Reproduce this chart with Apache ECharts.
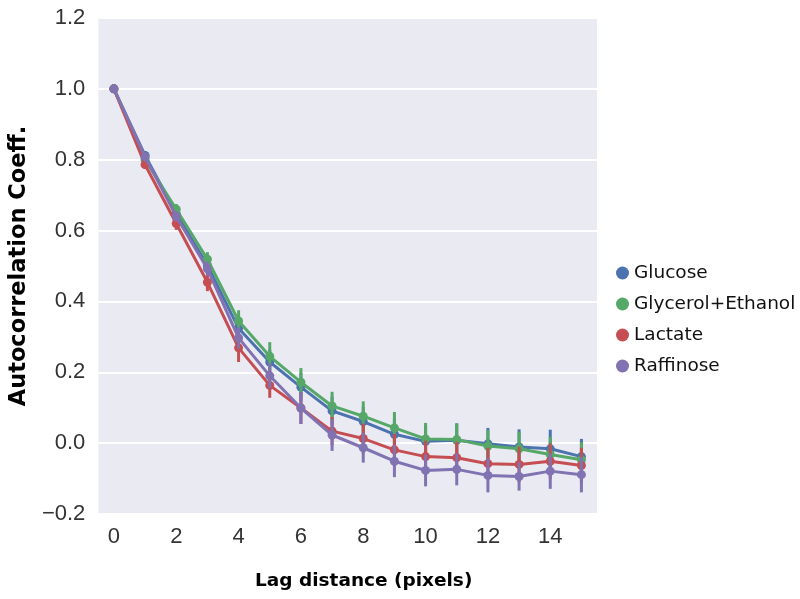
<!DOCTYPE html>
<html><head><meta charset="utf-8">
<script src="https://cdn.jsdelivr.net/npm/echarts@6/dist/echarts.min.js"></script>
<style>html,body{margin:0;padding:0;background:#fff}#c{width:800px;height:599px}</style>
</head><body><div id="c"></div>
<script>
const lags = ['0','1','2','3','4','5','6','7','8','9','10','11','12','13','14','15'];
const seriesNames = ['Glucose','Glycerol+Ethanol','Lactate','Raffinose'];
const colors = ['#4C72B0','#55A868','#C44E52','#8172B2'];
const glucose   = [1.0, 0.812, 0.648, 0.502, 0.324, 0.229, 0.158, 0.091, 0.061, 0.025, 0.005, 0.008, -0.002, -0.011, -0.016, -0.038];
const glycerol  = [1.0, 0.800, 0.660, 0.519, 0.345, 0.245, 0.172, 0.105, 0.076, 0.043, 0.012, 0.010, -0.008, -0.016, -0.032, -0.047];
const lactate   = [1.0, 0.786, 0.620, 0.454, 0.269, 0.163, 0.099, 0.034, 0.013, -0.019, -0.038, -0.041, -0.058, -0.060, -0.051, -0.063];
const raffinose = [1.0, 0.808, 0.640, 0.492, 0.297, 0.190, 0.099, 0.023, -0.013, -0.051, -0.077, -0.074, -0.091, -0.094, -0.079, -0.089];
const errGlucose   = [0, 0.012, 0.015, 0.02, 0.03, 0.035, 0.04, 0.04, 0.042, 0.045, 0.045, 0.048, 0.045, 0.05, 0.054, 0.05];
const errGlycerol  = [0, 0.012, 0.015, 0.02, 0.03, 0.04, 0.04, 0.04, 0.042, 0.045, 0.045, 0.045, 0.045, 0.048, 0.05, 0.05];
const errLactate   = [0, 0.012, 0.018, 0.025, 0.04, 0.035, 0.045, 0.04, 0.042, 0.045, 0.045, 0.045, 0.045, 0.05, 0.05, 0.05];
const errRaffinose = [0, 0.012, 0.015, 0.02, 0.03, 0.035, 0.045, 0.045, 0.042, 0.045, 0.045, 0.045, 0.048, 0.04, 0.05, 0.05];
const yTicks = { min: -0.2, max: 1.2, interval: 0.2 };

const values = [glucose, glycerol, lactate, raffinose];
const errs = [errGlucose, errGlycerol, errLactate, errRaffinose];

const series = [];
values.forEach((vals, i) => {
  series.push({
    type: 'custom',
    name: seriesNames[i],
    z: 2 + i * 2,
    silent: true,
    data: vals.map((v, k) => [k, v - errs[i][k], v + errs[i][k]]),
    renderItem: function (params, api) {
      const lo = api.coord([api.value(0), api.value(1)]);
      const hi = api.coord([api.value(0), api.value(2)]);
      return { type: 'line', shape: { x1: lo[0], y1: lo[1], x2: hi[0], y2: hi[1] },
               style: { stroke: colors[i], lineWidth: 3 } };
    },
    encode: { x: 0, y: [1, 2] }
  });
  series.push({
    type: 'line',
    name: seriesNames[i],
    z: 3 + i * 2,
    data: vals,
    symbol: 'circle',
    symbolSize: 9,
    showSymbol: true,
    lineStyle: { width: 3, color: colors[i] },
    itemStyle: { color: colors[i] },
    animation: false
  });
});

const chart = echarts.init(document.getElementById('c'), null, { renderer: 'canvas' });
chart.setOption({
  animation: false,
  color: colors,
  grid: { left: 97, right: 203, top: 18, bottom: 85, show: true, backgroundColor: '#EAEAF2', borderWidth: 0 },
  legend: {
    data: seriesNames.map((n, i) => ({ name: n, icon: 'circle', itemStyle: { color: colors[i] } })),
    orient: 'vertical', left: 611, top: 258,
    itemWidth: 13, itemHeight: 13, itemGap: 11,
    textStyle: { fontFamily: 'DejaVu Sans', fontSize: 18.5, color: '#111', lineHeight: 20, padding: [0,0,0,0] },
    selectedMode: false
  },
  xAxis: {
    type: 'category', data: lags, boundaryGap: true,
    axisLine: { show: false }, axisTick: { show: false },
    splitLine: { show: false },
    axisLabel: { interval: 1, fontFamily: 'Liberation Sans', fontSize: 22, color: '#333', margin: 12 },
    name: 'Lag distance (pixels)', nameLocation: 'middle', nameGap: 58,
    nameTextStyle: { fontFamily: 'DejaVu Sans', fontWeight: 'bold', fontSize: 18.5, color: '#000', padding: [0, 0, 0, 32] }
  },
  yAxis: {
    type: 'value', min: yTicks.min, max: yTicks.max, interval: yTicks.interval,
    axisLine: { show: false }, axisTick: { show: false },
    splitLine: { show: true, lineStyle: { color: '#ffffff', width: 2 } },
    axisLabel: { fontFamily: 'Liberation Sans', fontSize: 22, color: '#333', margin: 13,
      formatter: v => (v < 0 ? '\u2212' : '') + Math.abs(v).toFixed(1) },
    name: 'Autocorrelation Coeff.', nameLocation: 'middle', nameGap: 61, nameRotate: 90,
    nameTextStyle: { fontFamily: 'DejaVu Sans', fontWeight: 'bold', fontSize: 22.5, color: '#000' }
  },
  series: series
});
</script>
</body></html>
